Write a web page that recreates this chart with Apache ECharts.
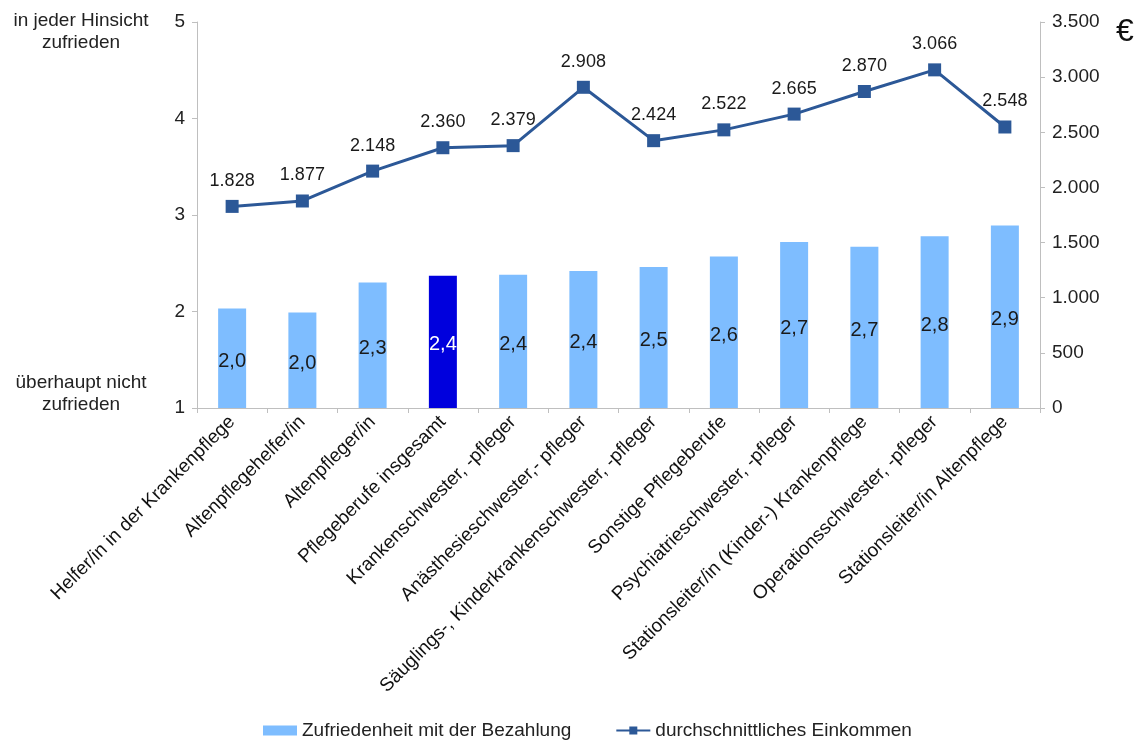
<!DOCTYPE html>
<html>
<head>
<meta charset="utf-8">
<script src="https://cdn.jsdelivr.net/npm/echarts@6/dist/echarts.min.js"></script>
<style>
  html, body { margin: 0; padding: 0; background: #fff; }
  #chart { width: 1143px; height: 751px; }
</style>
</head>
<body>
<div id="chart"></div>
<script>
// Berufsgruppen in der Pflege
const categories = [
  'Helfer/in in der Krankenpflege',
  'Altenpflegehelfer/in',
  'Altenpfleger/in',
  'Pflegeberufe insgesamt',
  'Krankenschwester, -pfleger',
  'Anästhesieschwester,- pfleger',
  'Säuglings-, Kinderkrankenschwester, -pfleger',
  'Sonstige Pflegeberufe',
  'Psychiatrieschwester, -pfleger',
  'Stationsleiter/in (Kinder-) Krankenpflege',
  'Operationsschwester, -pfleger',
  'Stationsleiter/in Altenpflege'
];
// Zufriedenheit mit der Bezahlung (1 = überhaupt nicht, 5 = in jeder Hinsicht)
const satisfaction = [2.03, 1.99, 2.30, 2.37, 2.38, 2.42, 2.46, 2.57, 2.72, 2.67, 2.78, 2.89];
// durchschnittliches Einkommen in Euro
const income = [1828, 1877, 2148, 2360, 2379, 2908, 2424, 2522, 2665, 2870, 3066, 2548];
// Gesamtwert wird hervorgehoben
const highlightIndex = 3;

const fontFamily = 'Liberation Sans, Arial, sans-serif';
const barColor = '#7EBDFF';
const highlightColor = '#0000DD';
const lineColor = '#2C5897';
const axisColor = '#BFBFBF';

const deNum = v => String(v).replace(/\B(?=(\d{3})+(?!\d))/g, '.');
const deDec = v => v.toFixed(1).replace('.', ',');

const chart = echarts.init(document.getElementById('chart'), null, { renderer: 'canvas' });

chart.setOption({
  backgroundColor: '#fff',
  animation: false,
  textStyle: { fontFamily },
  grid: { left: 197, right: 103, top: 22, bottom: 343, containLabel: false },
  graphic: [
    { type: 'text', x: 81, y: 10, style: { text: 'in jeder Hinsicht\nzufrieden', fill: '#222', font: '19px ' + fontFamily, align: 'center', lineHeight: 22 } },
    { type: 'text', x: 81, y: 372, style: { text: 'überhaupt nicht\nzufrieden', fill: '#222', font: '19px ' + fontFamily, align: 'center', lineHeight: 22 } },
    { type: 'text', x: 1116, y: 16, style: { text: '€', fill: '#111', font: '32px ' + fontFamily } }
  ],
  legend: {
    bottom: 6,
    left: 258,
    itemGap: 44,
    itemWidth: 34,
    itemHeight: 10,
    textStyle: { fontSize: 19, color: '#222', fontFamily },
    data: [
      { name: 'Zufriedenheit mit der Bezahlung', icon: 'rect', itemStyle: { color: barColor } },
      { name: 'durchschnittliches Einkommen' }
    ]
  },
  xAxis: {
    type: 'category',
    data: categories,
    axisLine: { lineStyle: { color: axisColor, width: 1 } },
    axisTick: { show: true, alignWithLabel: false, length: 5, lineStyle: { color: axisColor } },
    axisLabel: {
      interval: 0,
      rotate: 45,
      margin: 11,
      fontSize: 19,
      color: '#111',
      fontFamily
    }
  },
  yAxis: [
    {
      type: 'value',
      min: 1,
      max: 5,
      interval: 1,
      startValue: 1,
      splitLine: { show: false },
      axisLine: { show: true, lineStyle: { color: axisColor } },
      axisTick: { show: true, length: 5, lineStyle: { color: axisColor } },
      axisLabel: { fontSize: 19, color: '#222', margin: 12, fontFamily }
    },
    {
      type: 'value',
      min: 0,
      max: 3500,
      interval: 500,
      position: 'right',
      splitLine: { show: false },
      axisLine: { show: true, lineStyle: { color: axisColor } },
      axisTick: { show: true, length: 5, lineStyle: { color: axisColor } },
      axisLabel: { fontSize: 19, color: '#222', margin: 12, fontFamily, formatter: v => deNum(v) }
    }
  ],
  series: [
    {
      name: 'Zufriedenheit mit der Bezahlung',
      type: 'bar',
      yAxisIndex: 0,
      barWidth: 28,
      itemStyle: { color: barColor },
      label: {
        show: true,
        position: 'inside',
        offset: [0, 3],
        fontSize: 20,
        color: '#1a1a1a',
        fontFamily,
        formatter: p => deDec(p.value)
      },
      data: satisfaction.map((v, i) => i === highlightIndex
        ? { value: v, itemStyle: { color: highlightColor }, label: { color: '#fff' } }
        : v)
    },
    {
      name: 'durchschnittliches Einkommen',
      type: 'line',
      yAxisIndex: 1,
      symbol: 'rect',
      symbolSize: 13,
      lineStyle: { color: lineColor, width: 3 },
      itemStyle: { color: lineColor },
      label: {
        show: true,
        position: 'top',
        distance: 10,
        fontSize: 18,
        color: '#1a1a1a',
        fontFamily,
        formatter: p => deNum(p.value)
      },
      data: income
    }
  ]
});
</script>
</body>
</html>
